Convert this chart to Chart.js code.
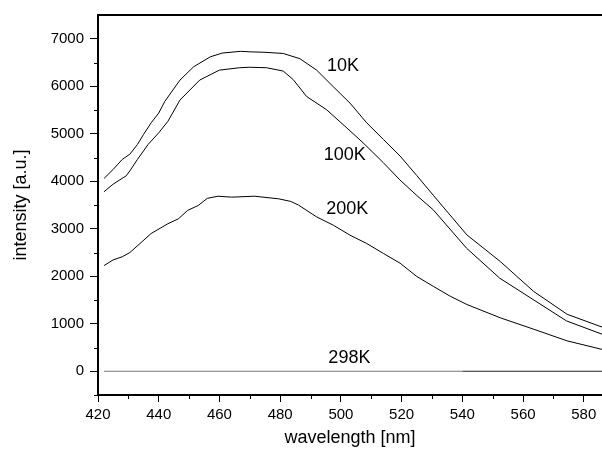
<!DOCTYPE html>
<html>
<head>
<meta charset="utf-8">
<script src="https://cdn.jsdelivr.net/npm/chart.js@4.4.1/dist/chart.umd.min.js"></script>
<style>
  body { margin: 0; background: #fff; }
  #wrap { width: 602px; height: 451px; }
</style>
</head>
<body>
<div id="wrap"><canvas id="spectra" width="602" height="451"></canvas></div>
<script>
// valores (comprimento de onda em nm, intensidade em u.a.)
const wl10K = [422, 425, 428, 430.5, 433, 435, 437.5, 440, 442, 447, 451.5, 457, 461, 467, 470, 475, 481, 486.5, 492, 497.5, 503, 508.5, 514, 519.5, 525, 530.5, 541.5, 552.5, 563.5, 574.5, 586];
const int10K = [4060, 4250, 4460, 4570, 4775, 4985, 5230, 5435, 5680, 6130, 6410, 6620, 6700, 6735, 6725, 6715, 6690, 6580, 6340, 5990, 5645, 5230, 4880, 4530, 4120, 3700, 2870, 2310, 1680, 1200, 930];

const wl100K = [422, 425, 429.3, 430.5, 433, 436.5, 440, 443, 447, 453.5, 460, 466.7, 470, 475.5, 481, 484.3, 488.7, 495.3, 502, 507.3, 514, 519.4, 525, 530.4, 541.4, 552.3, 563.3, 574.3, 586];
const int100K = [3780, 3940, 4115, 4220, 4460, 4775, 5020, 5260, 5710, 6130, 6340, 6390, 6400, 6390, 6320, 6140, 5785, 5505, 5120, 4810, 4390, 4030, 3700, 3400, 2590, 1960, 1510, 1060, 780];

const wl200K = [422, 425, 428, 430.5, 433.5, 437.5, 443, 446.5, 449.5, 453, 456, 459.5, 464, 471.5, 479.5, 483.5, 486, 492, 497.5, 503, 508.5, 514, 519.5, 525, 530.5, 536, 541.5, 552.5, 563.5, 574.5, 586];
const int200K = [2225, 2345, 2410, 2500, 2670, 2900, 3105, 3210, 3385, 3490, 3640, 3685, 3665, 3685, 3630, 3575, 3500, 3250, 3075, 2865, 2690, 2480, 2275, 1995, 1785, 1580, 1405, 1125, 885, 640, 460];

const wl298K = [422, 540, 586];
const int298K = [0, 0, 0];

const xTicks = [420, 440, 460, 480, 500, 520, 540, 560, 580];
const yTicks = [0, 1000, 2000, 3000, 4000, 5000, 6000, 7000];
const xMinor = [430, 450, 470, 490, 510, 530, 550, 570];
const yMinor = [-500, 500, 1500, 2500, 3500, 4500, 5500, 6500];

// rotulos das curvas (posicao em coordenadas dos dados)
const curveNames = ["10K", "100K", "200K", "298K"];
const nameX = [500.7, 501.3, 502.1, 502.8];
const nameY = [6416, 4560, 3424, 275];

const FONT = "'Liberation Sans', Arial, sans-serif";

const toPoints = (xs, ys) => xs.map((x, i) => ({ x, y: ys[i] }));

const lineStyle = {
  borderColor: "#000",
  borderWidth: 1,
  pointRadius: 0,
  tension: 0,
  fill: false,
};

// tracinhos menores e nomes das curvas
const extras = {
  id: "extras",
  afterDraw(chart) {
    const { ctx, scales, chartArea } = chart;
    ctx.save();
    ctx.strokeStyle = "#000";
    ctx.lineWidth = 1;
    ctx.beginPath();
    xMinor.forEach((v) => {
      const px = Math.round(scales.x.getPixelForValue(v)) + 0.5;
      ctx.moveTo(px, chartArea.bottom);
      ctx.lineTo(px, chartArea.bottom + 4);
    });
    yMinor.forEach((v) => {
      const py = Math.round(scales.y.getPixelForValue(v)) + 0.5;
      ctx.moveTo(chartArea.left, py);
      ctx.lineTo(chartArea.left - 4, py);
    });
    ctx.stroke();

    ctx.fillStyle = "#000";
    ctx.font = "18px " + FONT;
    ctx.textAlign = "center";
    ctx.textBaseline = "middle";
    curveNames.forEach((name, i) => {
      ctx.fillText(name, scales.x.getPixelForValue(nameX[i]), scales.y.getPixelForValue(nameY[i]));
    });
    ctx.restore();
  },
};

new Chart(document.getElementById("spectra").getContext("2d"), {
  type: "line",
  data: {
    datasets: [
      { label: "10K", data: toPoints(wl10K, int10K), ...lineStyle },
      { label: "100K", data: toPoints(wl100K, int100K), ...lineStyle },
      { label: "200K", data: toPoints(wl200K, int200K), ...lineStyle },
      {
        label: "298K",
        data: toPoints(wl298K, int298K),
        ...lineStyle,
        segment: {
          borderColor: (c) => (c.p0.parsed.x < 540 ? "#777" : "#222"),
        },
      },
    ],
  },
  options: {
    responsive: false,
    animation: false,
    layout: { padding: 0 },
    plugins: {
      legend: { display: false },
      tooltip: { enabled: false },
    },
    scales: {
      x: {
        type: "linear",
        position: "bottom",
        min: 420,
        max: 586,
        afterBuildTicks: (s) => {
          s.ticks = xTicks.map((v) => ({ value: v }));
        },
        afterFit: (s) => {
          s.height = 56;
        },
        ticks: {
          color: "#000",
          padding: 4,
          maxRotation: 0,
          callback: (v) => String(v),
          font: { family: FONT, size: 15 },
        },
        grid: {
          drawOnChartArea: false,
          tickLength: 7,
          tickColor: "#000",
          tickWidth: 1,
        },
        border: { display: true, color: "#000", width: 2 },
        title: {
          display: true,
          text: "wavelength [nm]",
          color: "#000",
          padding: { top: 0, bottom: 2 },
          font: { family: FONT, size: 18 },
        },
      },
      top: {
        type: "linear",
        position: "top",
        min: 420,
        max: 586,
        afterFit: (s) => {
          s.height = 11;
        },
        ticks: { display: false },
        grid: { drawOnChartArea: false, drawTicks: false },
        border: { display: true, color: "#000", width: 2 },
      },
      y: {
        type: "linear",
        position: "left",
        min: -500,
        max: 7500,
        afterBuildTicks: (s) => {
          s.ticks = yTicks.map((v) => ({ value: v }));
        },
        afterFit: (s) => {
          s.width = 98;
        },
        ticks: {
          color: "#000",
          padding: 6,
          callback: (v) => String(v),
          font: { family: FONT, size: 15 },
        },
        grid: {
          drawOnChartArea: false,
          tickLength: 8,
          tickColor: "#000",
          tickWidth: 1,
        },
        border: { display: true, color: "#000", width: 2 },
        title: {
          display: true,
          text: "intensity [a.u.]",
          color: "#000",
          padding: { top: 10, bottom: 0 },
          font: { family: FONT, size: 18 },
        },
      },
    },
  },
  plugins: [extras],
});
</script>
</body>
</html>
